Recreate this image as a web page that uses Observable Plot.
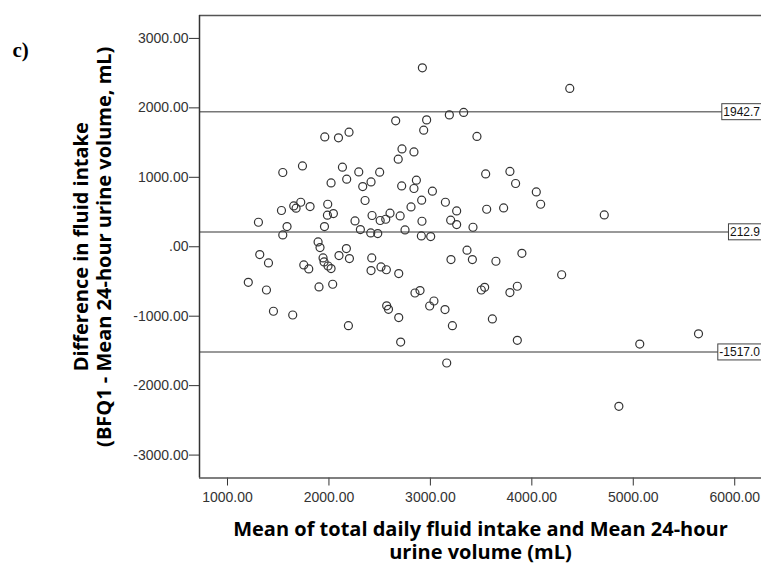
<!DOCTYPE html>
<html>
<head>
<meta charset="utf-8">
<script src="https://cdn.jsdelivr.net/npm/d3@7"></script>
<script src="https://cdn.jsdelivr.net/npm/@observablehq/plot@0.6"></script>
<style>
  html, body { margin: 0; padding: 0; background: #fff; }
  #chart svg { display: block; }
</style>
</head>
<body>
<div id="chart"></div>
<script>
// Mean of total daily fluid intake and mean 24-hour urine volume (mL)
const meanVals = [2658,1959,2094,2198,2720,2683,1545,1739,2133,2294,2500,2021,2175,2333,2415,2717,2356,1532,1653,1676,
  1722,1814,1988,1985,2044,2425,2505,2560,2602,2702,1305,1587,1956,2257,2310,2412,2481,1545,1893,1912,
  2172,1318,1404,1942,1952,2099,2202,2422,1752,1801,1991,2021,2415,2513,2566,2688,1205,1384,1902,2037,
  1453,1643,2569,2587,2688,2192,2707,2921,4374,2963,3187,3328,2934,3459,2838,3545,3784,3840,4044,4087,
  2838,2862,3020,2914,2809,3148,3259,3555,3722,2917,3200,3259,3420,2750,2911,3003,3361,3203,3414,3646,
  3902,4294,2848,2898,3502,3535,3784,3857,2993,3035,3144,3217,3611,3857,3161,4714,5064,5643,4858];
// Difference in fluid intake (BFQ1 - mean 24-hour urine volume, mL)
const diffVals = [1813,1582,1568,1650,1409,1261,1069,1164,1146,1078,1074,919,973,867,934,876,666,522,588,555,
  641,579,612,454,478,450,378,396,483,444,353,291,291,372,248,199,190,170,69,-12,
  -26,-112,-233,-161,-219,-127,-170,-161,-262,-320,-277,-314,-343,-291,-331,-386,-512,-623,-579,-540,
  -929,-983,-850,-901,-1020,-1136,-1373,2577,2280,1827,1899,1934,1679,1588,1366,1049,1084,911,790,612,
  839,958,800,670,574,641,516,540,559,367,382,320,281,242,156,147,-50,-184,-184,-209,
  -94,-403,-666,-631,-623,-584,-660,-569,-853,-781,-905,-1136,-1040,-1347,-1674,458,-1401,-1254,-2298];

// Mean difference and limits of agreement
const refLines = [1942.7, 212.9, -1517.0];
const refLabels = ["1942.7", "212.9", "-1517.0"];

const xTicks = [1000, 2000, 3000, 4000, 5000, 6000];
const xTickLabels = ["1000.00", "2000.00", "3000.00", "4000.00", "5000.00", "6000.00"];
const yTicks = [-3000, -2000, -1000, 0, 1000, 2000, 3000];
const yTickLabels = ["-3000.00", "-2000.00", "-1000.00", ".00", "1000.00", "2000.00", "3000.00"];

const xTitle1 = "Mean of total daily fluid intake and Mean 24-hour";
const xTitle2 = "urine volume (mL)";
const yTitle = "Difference in fluid intake\n(BFQ1 - Mean 24-hour urine volume, mL)";
const panelLabel = "c)";

const points = meanVals.map((m, i) => ({mean: m, diff: diffVals[i]}));

const xDomain = [724, 6264];
const yDomain = [-3330, 3330];

const titleStyle = {fontFamily: "Open Sans", fontWeight: "bold", fontSize: 20, fill: "#000"};

const chart = Plot.plot({
  width: 761,
  height: 563,
  marginLeft: 199,
  marginRight: 0,
  marginTop: 15,
  marginBottom: 85.5,
  style: {fontFamily: "Liberation Sans, Arial, sans-serif", fontSize: "14px", color: "#333", background: "#fff"},
  x: {domain: xDomain, ticks: xTicks, tickSize: 8, tickPadding: 6,
      tickFormat: d => xTickLabels[xTicks.indexOf(d)], label: null},
  y: {domain: yDomain, ticks: yTicks, tickSize: 10, tickPadding: 1,
      tickFormat: d => yTickLabels[yTicks.indexOf(d)], label: null},
  marks: [
    Plot.ruleY(refLines, {stroke: "#777", strokeWidth: 1.5}),
    Plot.dot(points, {x: "mean", y: "diff", r: 4, stroke: "#333", strokeWidth: 1.2, fill: "none"}),
    Plot.ruleY([yDomain[0], yDomain[1]], {stroke: "#555", strokeWidth: 1.5}),
    Plot.ruleX([xDomain[0]], {stroke: "#333", strokeWidth: 1.5}),
    Plot.text(refLines, {y: d => d, text: (d, i) => refLabels[i], frameAnchor: "right", textAnchor: "end",
      dx: -1.5, fill: "#111", fontSize: 12}),
    Plot.text([xTitle1], {text: d => d, frameAnchor: "bottom", textAnchor: "middle", lineAnchor: "bottom", dy: 57.5,
      ...titleStyle}),
    Plot.text([xTitle2], {text: d => d, frameAnchor: "bottom", textAnchor: "middle", lineAnchor: "bottom", dy: 80.5,
      ...titleStyle}),
    Plot.text([yTitle], {text: d => d, frameAnchor: "left", textAnchor: "middle", rotate: -90, lineAnchor: "middle", dx: -107,
      lineHeight: 1.15, ...titleStyle}),
    Plot.text([panelLabel], {text: d => d, frameAnchor: "top-left", textAnchor: "start", lineAnchor: "middle",
      dx: -187, dy: 35, fontFamily: "Liberation Serif", fontWeight: "bold", fontSize: 21, fill: "#000"})
  ]
});

document.getElementById("chart").append(chart);

// white boxes behind the reference-line labels
const svg = chart.tagName.toLowerCase() === "svg" ? chart : chart.querySelector("svg");
svg.querySelectorAll("text").forEach(t => {
  if (refLabels.includes(t.textContent) && !t.closest("[aria-label*='tick']")) {
    const b = t.getBBox();
    const r = document.createElementNS("http://www.w3.org/2000/svg", "rect");
    r.setAttribute("x", b.x - 1.5);
    r.setAttribute("y", b.y + b.height / 2 - 8);
    r.setAttribute("width", b.width + 3);
    r.setAttribute("height", 16);
    r.setAttribute("fill", "#fff");
    r.setAttribute("stroke", "#444");
    r.setAttribute("stroke-width", 1);
    if (t.getAttribute("transform")) r.setAttribute("transform", t.getAttribute("transform"));
    t.parentNode.insertBefore(r, t);
  }
});
</script>
</body>
</html>
